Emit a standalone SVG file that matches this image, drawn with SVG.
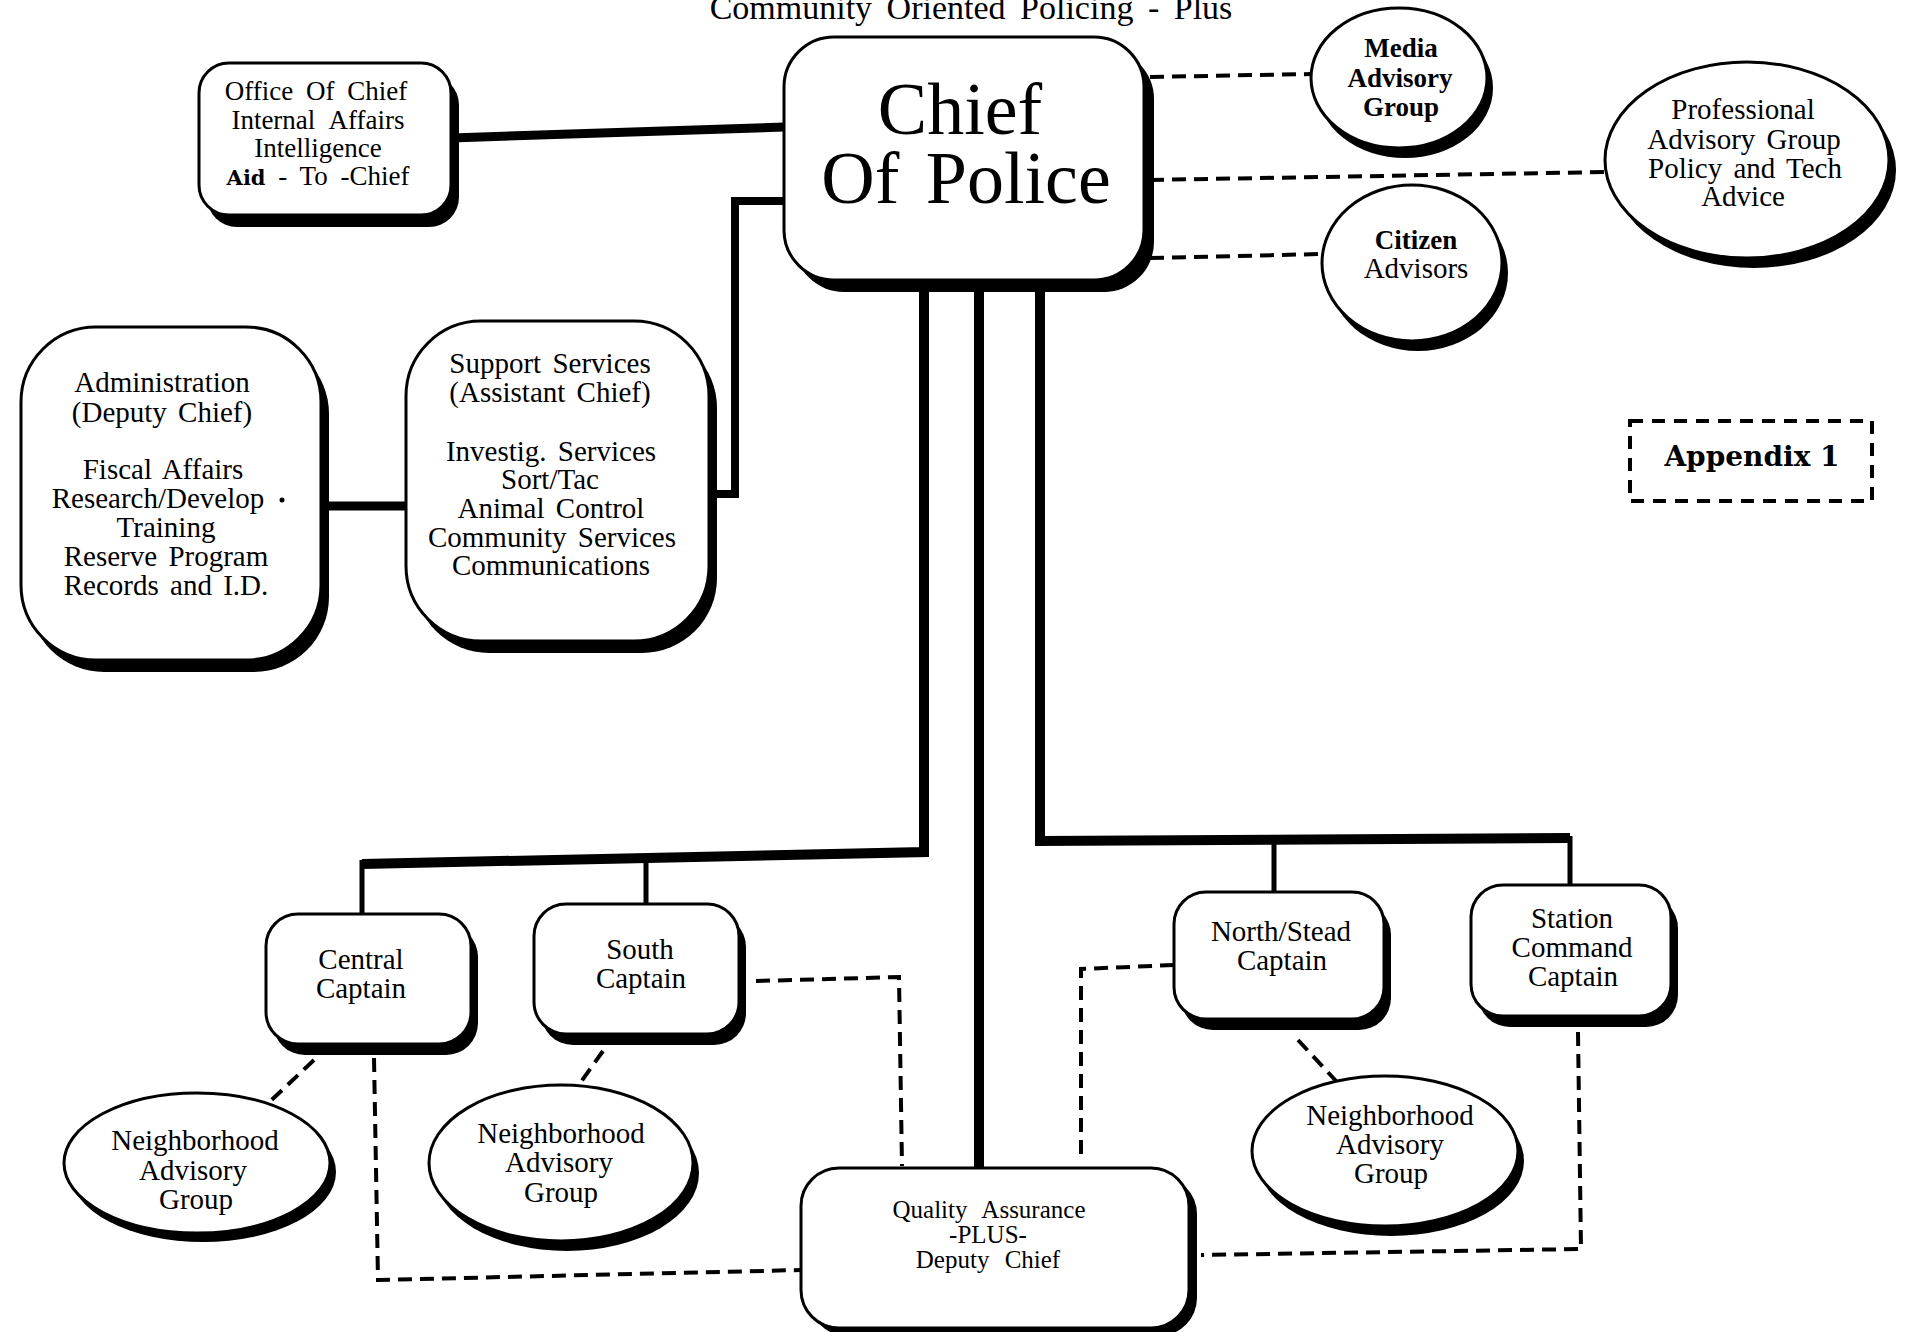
<svg xmlns="http://www.w3.org/2000/svg" width="1911" height="1332" viewBox="0 0 1911 1332">
<style>
.bg{fill:#fff}
.box{fill:#fff;stroke:#000;stroke-width:3}
.sh{fill:#000}
.t{font-family:"Liberation Serif","Times New Roman",serif;font-size:29px;text-anchor:middle;word-spacing:4px;fill:#000}
.tb{font-family:"Liberation Serif","Times New Roman",serif;font-size:27px;font-weight:bold;text-anchor:middle;fill:#000}
.big{font-family:"Liberation Serif","Times New Roman",serif;font-size:74px;text-anchor:middle;word-spacing:8px;fill:#000}
.typ{font-family:"DejaVu Serif",serif;font-weight:bold}
.solid{stroke:#000;fill:none;stroke-linejoin:miter}
.dash{stroke:#000;fill:none;stroke-width:4;stroke-dasharray:14 8}
</style>
<rect class="bg" x="0" y="0" width="1911" height="1332"/>
<text class="t" x="971" y="19" style="font-size:34px;word-spacing:6px">Community Oriented Policing - Plus</text>

<g id="connectors">
<line class="solid" x1="451" y1="138" x2="784" y2="127" stroke-width="9"/>
<polyline class="solid" points="784,201 735,201 735,494 709,494" stroke-width="8"/>
<line class="solid" x1="321" y1="506" x2="406" y2="506" stroke-width="9"/>
<line class="dash" x1="1150" y1="77" x2="1311" y2="74"/>
<line class="dash" x1="1150" y1="180" x2="1605" y2="172"/>
<line class="dash" x1="1150" y1="258" x2="1322" y2="254"/>
<polyline class="solid" points="924,288 924,852 362,864" stroke-width="10"/>
<line class="solid" x1="362" y1="860" x2="362" y2="914" stroke-width="5"/>
<line class="solid" x1="646" y1="858" x2="646" y2="904" stroke-width="5"/>
<line class="solid" x1="979" y1="288" x2="979" y2="1168" stroke-width="10"/>
<polyline class="solid" points="1040,288 1040,841 1570,838" stroke-width="10"/>
<line class="solid" x1="1274" y1="840" x2="1274" y2="892" stroke-width="5"/>
<line class="solid" x1="1570" y1="836" x2="1570" y2="885" stroke-width="5"/>
<line class="dash" x1="314" y1="1060" x2="262" y2="1109"/>
<polyline class="dash" points="374,1058 378,1280 801,1270"/>
<line class="dash" x1="603" y1="1051" x2="573" y2="1093"/>
<polyline class="dash" points="756,981 899,977 902,1166"/>
<polyline class="dash" points="1174,965 1081,969 1081,1158"/>
<line class="dash" x1="1298" y1="1040" x2="1337" y2="1082"/>
<polyline class="dash" points="1578,1032 1581,1249 1201,1255"/>
</g>

<g id="chief">
<rect class="sh" x="794" y="49" width="360" height="243" rx="50"/>
<rect class="box" x="784" y="37" width="360" height="243" rx="50"/>
<text class="big" x="960" y="134">Chief</text>
<text class="big" x="966" y="203">Of Police</text>
</g>

<g id="office">
<rect class="sh" x="207" y="75" width="252" height="152" rx="30"/>
<rect class="box" x="199" y="63" width="252" height="152" rx="30"/>
<text class="t" x="316" y="100" style="font-size:27px;word-spacing:6px">Office Of Chief</text>
<text class="t" x="318" y="129" style="font-size:27px;word-spacing:8px">Internal Affairs</text>
<text class="t" x="318" y="157" style="font-size:27px">Intelligence</text>
<text class="t" x="318" y="185" style="font-size:27px;word-spacing:6px"><tspan class="typ" style="font-size:21px">Aid</tspan> - To -Chief</text>
</g>

<g id="admin">
<rect class="sh" x="29" y="339" width="300" height="333" rx="75"/>
<rect class="box" x="21" y="327" width="300" height="333" rx="75"/>
<text class="t" x="162" y="392">Administration</text>
<text class="t" x="162" y="422">(Deputy Chief)</text>
<text class="t" x="163" y="479">Fiscal Affairs</text>
<text class="t" x="158" y="508">Research/Develop</text>
<circle cx="282" cy="500" r="2.5" fill="#000"/>
<text class="t" x="166" y="537">Training</text>
<text class="t" x="166" y="566">Reserve Program</text>
<text class="t" x="166" y="595">Records and I.D.</text>
</g>

<g id="support">
<rect class="sh" x="414" y="333" width="303" height="320" rx="75"/>
<rect class="box" x="406" y="321" width="303" height="320" rx="75"/>
<text class="t" x="550" y="373">Support Services</text>
<text class="t" x="550" y="402">(Assistant Chief)</text>
<text class="t" x="551" y="461">Investig. Services</text>
<text class="t" x="550" y="489">Sort/Tac</text>
<text class="t" x="551" y="518">Animal Control</text>
<text class="t" x="552" y="547">Community Services</text>
<text class="t" x="551" y="575">Communications</text>
</g>

<g id="media">
<ellipse class="sh" cx="1405" cy="88" rx="88" ry="70"/>
<ellipse class="box" cx="1399" cy="78" rx="88" ry="70"/>
<text class="tb" x="1401" y="57">Media</text>
<text class="tb" x="1400" y="87">Advisory</text>
<text class="tb" x="1401" y="116">Group</text>
</g>

<g id="professional">
<ellipse class="sh" cx="1754" cy="170" rx="142" ry="98"/>
<ellipse class="box" cx="1747" cy="160" rx="142" ry="98"/>
<text class="t" x="1743" y="119">Professional</text>
<text class="t" x="1744" y="149">Advisory Group</text>
<text class="t" x="1745" y="178">Policy and Tech</text>
<text class="t" x="1743" y="206">Advice</text>
</g>

<g id="citizen">
<ellipse class="sh" cx="1418" cy="273" rx="90" ry="78"/>
<ellipse class="box" cx="1412" cy="263" rx="90" ry="78"/>
<text class="tb" x="1416" y="249">Citizen</text>
<text class="t" x="1416" y="278">Advisors</text>
</g>

<g id="appendix">
<rect x="1630" y="421" width="242" height="80" fill="none" stroke="#000" stroke-width="4" stroke-dasharray="13 9"/>
<text class="typ" x="1752" y="466" style="font-size:28px;text-anchor:middle">Appendix 1</text>
</g>

<g id="central">
<rect class="sh" x="273" y="925" width="205" height="130" rx="32"/>
<rect class="box" x="266" y="914" width="205" height="130" rx="32"/>
<text class="t" x="361" y="969">Central</text>
<text class="t" x="361" y="998">Captain</text>
</g>

<g id="south">
<rect class="sh" x="541" y="915" width="205" height="130" rx="32"/>
<rect class="box" x="534" y="904" width="205" height="130" rx="32"/>
<text class="t" x="640" y="959">South</text>
<text class="t" x="641" y="988">Captain</text>
</g>

<g id="north">
<rect class="sh" x="1181" y="903" width="210" height="127" rx="32"/>
<rect class="box" x="1174" y="892" width="210" height="127" rx="32"/>
<text class="t" x="1281" y="941">North/Stead</text>
<text class="t" x="1282" y="970">Captain</text>
</g>

<g id="station">
<rect class="sh" x="1478" y="896" width="200" height="131" rx="32"/>
<rect class="box" x="1471" y="885" width="200" height="131" rx="32"/>
<text class="t" x="1572" y="928">Station</text>
<text class="t" x="1572" y="957">Command</text>
<text class="t" x="1573" y="986">Captain</text>
</g>

<g id="qa">
<rect class="sh" x="809" y="1176" width="388" height="160" rx="38"/>
<rect class="box" x="801" y="1168" width="388" height="160" rx="38"/>
<text class="t" x="989" y="1218" style="font-size:25px;word-spacing:9px">Quality Assurance</text>
<text class="t" x="988" y="1243" style="font-size:25px">-PLUS-</text>
<text class="t" x="988" y="1268" style="font-size:25px;word-spacing:9px">Deputy Chief</text>
</g>

<g id="nag1">
<ellipse class="sh" cx="203" cy="1172" rx="133" ry="70"/>
<ellipse class="box" cx="197" cy="1163" rx="133" ry="70"/>
<text class="t" x="195" y="1150">Neighborhood</text>
<text class="t" x="193" y="1180">Advisory</text>
<text class="t" x="196" y="1209">Group</text>
</g>

<g id="nag2">
<ellipse class="sh" cx="567" cy="1173" rx="132" ry="78"/>
<ellipse class="box" cx="561" cy="1163" rx="132" ry="78"/>
<text class="t" x="561" y="1143">Neighborhood</text>
<text class="t" x="559" y="1172">Advisory</text>
<text class="t" x="561" y="1202">Group</text>
</g>

<g id="nag3">
<ellipse class="sh" cx="1391" cy="1161" rx="133" ry="75"/>
<ellipse class="box" cx="1385" cy="1151" rx="133" ry="75"/>
<text class="t" x="1390" y="1125">Neighborhood</text>
<text class="t" x="1390" y="1154">Advisory</text>
<text class="t" x="1391" y="1183">Group</text>
</g>
</svg>
